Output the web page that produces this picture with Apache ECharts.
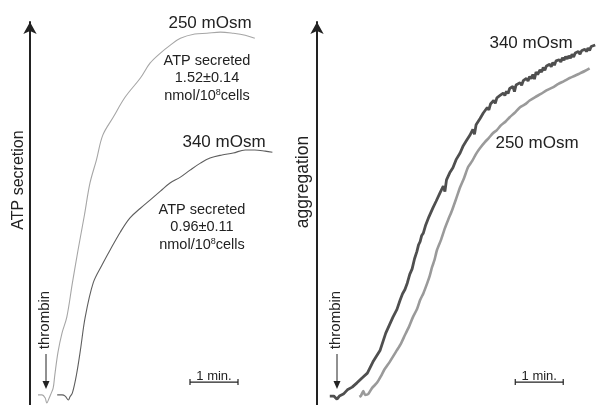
<!DOCTYPE html>
<html>
<head>
<meta charset="utf-8">
<script src="https://cdn.jsdelivr.net/npm/echarts@6/dist/echarts.min.js"></script>
<style>
  html, body { margin: 0; padding: 0; background: #fff; }
  #chart { width: 596px; height: 405px; }
</style>
</head>
<body>
<div id="chart"></div>
<script>
// Time axis in seconds, response in % of full-scale deflection.

// ATP secretion traces (left panel)
const secretion250 = [
  [10, 2.6], [15, 2.6], [19, 1.8], [21, 0.5], [24, 1.8], [26, 2.8], [29, 4.4], [31, 7.7],
  [35, 13.6], [40, 18.5], [46, 22.6], [53, 31.4], [60, 39.8], [68, 48.8], [75, 57.1],
  [83, 63.0], [91, 69.4], [104, 74.0], [119, 79.2], [138, 84.1], [150, 87.9], [163, 90.5],
  [175, 92.5], [188, 94.3], [206, 95.4], [221, 95.6], [238, 95.9], [254, 95.6], [269, 95.1],
  [281, 94.3]
];
const secretion340 = [
  [34, 2.6], [40, 2.6], [44, 2.3], [48, 1.3], [50, 2.1], [53, 3.1], [58, 7.7], [63, 14.1],
  [69, 22.6], [79, 31.4], [90, 36.0], [100, 39.8], [113, 44.5], [125, 48.1], [138, 50.6],
  [150, 52.7], [163, 55.0], [175, 57.1], [188, 58.6], [200, 60.4], [213, 62.2], [225, 63.5],
  [240, 64.3], [254, 64.8], [269, 65.6], [281, 65.6], [294, 65.3], [303, 65.0]
];

// Aggregation traces (right panel)
const aggregation340 = [
  [16, 2.3], [21, 2.3], [25, 1.5], [28, 2.3], [33, 2.8], [38, 3.9], [44, 4.6], [50, 5.7],
  [56, 6.9], [63, 8.2], [70, 11.1], [79, 14.1], [86, 18.5], [95, 22.6], [100, 24.6],
  [104, 27.0], [107, 28.6], [110, 29.7], [113, 31.4], [116, 33.6], [119, 35.0], [122, 37.6],
  [125, 39.5], [127, 41.2], [129, 42.0], [131, 43.6], [133, 44.2], [136, 46.3], [138, 46.7],
  [140, 48.4], [142, 48.6], [145, 50.7], [147, 51.0], [149, 52.4], [151, 52.1], [154, 54.6],
  [156, 54.9], [158, 56.3], [160, 54.9], [162, 57.9], [164, 58.2], [166, 59.7], [168, 59.5],
  [170, 61.0], [172, 61.3], [174, 63.1], [176, 62.6], [179, 64.8], [181, 65.0], [183, 66.7],
  [185, 66.2], [187, 68.0], [189, 67.6], [191, 69.3], [193, 69.1], [195, 70.9], [197, 69.6],
  [199, 72.1], [201, 71.8], [204, 73.7], [206, 73.3], [208, 75.1], [210, 74.6], [213, 76.5],
  [215, 75.9], [217, 77.4], [219, 77.0], [221, 78.3], [223, 77.6], [225, 79.0], [227, 78.5],
  [229, 79.6], [231, 79.2], [233, 80.2], [235, 79.6], [237, 80.7], [239, 80.1], [241, 81.4],
  [243, 81.0], [245, 81.9], [247, 80.6], [249, 82.3], [251, 81.9], [254, 82.9], [256, 82.2],
  [258, 83.4], [260, 83.0], [262, 84.0], [264, 83.3], [266, 84.5], [268, 83.9], [270, 85.0],
  [272, 83.8], [274, 85.6], [276, 85.0], [279, 86.2], [281, 85.6], [283, 86.8], [285, 86.1],
  [287, 87.2], [289, 86.7], [291, 87.6], [293, 87.0], [295, 88.1], [297, 87.4], [299, 88.5],
  [301, 88.0], [303, 88.8], [305, 88.2], [307, 89.3], [309, 88.7], [311, 89.6], [313, 89.0],
  [315, 89.8], [317, 89.2], [319, 90.2], [321, 89.5], [323, 90.5], [325, 90.1], [327, 90.9],
  [329, 90.2], [331, 91.1], [333, 90.6], [335, 91.5], [337, 90.9], [339, 91.8], [341, 91.2],
  [343, 92.2], [345, 91.7], [348, 92.6]
];
const aggregation250 = [
  [53, 2.1], [55, 2.4], [58, 3.6], [60, 2.6], [64, 2.8], [69, 4.4], [75, 5.7], [80, 7.4],
  [84, 9.0], [91, 11.1], [100, 14.1], [105, 15.8], [110, 18.0], [115, 20.1], [120, 22.6],
  [125, 24.6], [129, 27.0], [133, 28.7], [138, 31.4], [141, 33.2], [144, 35.5], [147, 37.3],
  [150, 39.8], [155, 42.4], [160, 45.5], [164, 47.6], [169, 50.1], [174, 53.0], [179, 56.0],
  [184, 58.4], [189, 61.2], [194, 62.7], [199, 64.6], [204, 66.1], [210, 67.6], [215, 68.7],
  [220, 69.9], [225, 70.7], [230, 71.9], [236, 72.9], [241, 74.0], [247, 75.1], [254, 76.6],
  [260, 77.3], [266, 78.3], [273, 79.2], [280, 80.0], [287, 80.9], [295, 81.7], [302, 82.6],
  [309, 83.3], [316, 84.1], [322, 84.6], [329, 85.3], [335, 85.9], [341, 86.6]
];

// One-minute scale bars: [start, end, level]
const scaleBarLeft = [[200, 260, 5.9]];
const scaleBarRight = [[248, 308, 5.9]];

const FONT = '"Liberation Sans", Arial, sans-serif';
const INK = '#222';

function renderScaleBar(params, api) {
  const a = api.coord([api.value(0), api.value(2)]);
  const b = api.coord([api.value(1), api.value(2)]);
  const st = { stroke: INK, lineWidth: 1.2 };
  return {
    type: 'group',
    children: [
      { type: 'line', shape: { x1: a[0], y1: a[1], x2: b[0], y2: b[1] }, style: st },
      { type: 'line', shape: { x1: a[0], y1: a[1] - 3, x2: a[0], y2: a[1] + 3 }, style: st },
      { type: 'line', shape: { x1: b[0], y1: b[1] - 3, x2: b[0], y2: b[1] + 3 }, style: st },
      {
        type: 'text',
        style: {
          text: '1 min.', x: (a[0] + b[0]) / 2, y: a[1] + 1,
          align: 'center', verticalAlign: 'bottom',
          font: '13px ' + FONT, fill: INK
        }
      }
    ]
  };
}

function hiddenX(idx, max) {
  return { type: 'value', gridIndex: idx, min: 0, max: max, show: false };
}
function arrowY(idx) {
  return {
    type: 'value', gridIndex: idx, min: 0, max: 98.5,
    axisLine: {
      show: true, onZero: false, symbol: ['none', 'arrow'], symbolSize: [10, 12],
      lineStyle: { color: INK, width: 2 }
    },
    axisTick: { show: false }, axisLabel: { show: false }, splitLine: { show: false }
  };
}

function vText(text, x, y, size) {
  return {
    type: 'text', x: x, y: y, rotation: Math.PI / 2,
    style: { text: text, font: size + 'px ' + FONT, fill: INK, align: 'center', verticalAlign: 'middle' }
  };
}
function hText(text, x, y, size, rich) {
  return {
    type: 'text', x: x, y: y,
    style: { text: text, font: size + 'px ' + FONT, fill: INK, align: 'center', verticalAlign: 'middle', rich: rich }
  };
}
function thrombinArrow(x, textY, lineTop, tipY) {
  return [
    vText('thrombin', x - 1, textY, 15),
    { type: 'line', shape: { x1: x, y1: lineTop, x2: x, y2: tipY - 6 }, style: { stroke: INK, lineWidth: 1 } },
    { type: 'polygon', shape: { points: [[x - 3.5, tipY - 8], [x + 3.5, tipY - 8], [x, tipY]] }, style: { fill: INK } }
  ];
}

const unitRich = {
  sup: { font: '9px ' + FONT, fill: INK, verticalAlign: 'top', padding: [0, 0, 7, 0] }
};

const chart = echarts.init(document.getElementById('chart'), null, { renderer: 'canvas' });
chart.setOption({
  animation: false,
  backgroundColor: '#fff',
  grid: [
    { left: 30, top: 22, width: 260, bottom: 0 },
    { left: 317, top: 22, width: 279, bottom: 0 }
  ],
  xAxis: [hiddenX(0, 325), hiddenX(1, 349)],
  yAxis: [arrowY(0), arrowY(1)],
  series: [
    { type: 'line', name: '250 mOsm', xAxisIndex: 0, yAxisIndex: 0, data: secretion250,
      showSymbol: false, smooth: 0.35, lineStyle: { color: '#a6a6a6', width: 1.1 } },
    { type: 'line', name: '340 mOsm', xAxisIndex: 0, yAxisIndex: 0, data: secretion340,
      showSymbol: false, smooth: 0.35, lineStyle: { color: '#5e5e5e', width: 1.1 } },
    { type: 'line', name: '250 mOsm', xAxisIndex: 1, yAxisIndex: 1, data: aggregation250,
      showSymbol: false, smooth: 0.2, lineStyle: { color: '#9a9a9a', width: 2.6 } },
    { type: 'line', name: '340 mOsm', xAxisIndex: 1, yAxisIndex: 1, data: aggregation340,
      showSymbol: false, lineStyle: { color: '#4f4f4f', width: 2.8 } },
    { type: 'custom', xAxisIndex: 0, yAxisIndex: 0, data: scaleBarLeft, renderItem: renderScaleBar },
    { type: 'custom', xAxisIndex: 1, yAxisIndex: 1, data: scaleBarRight, renderItem: renderScaleBar }
  ],
  graphic: [
    vText('ATP secretion', 18.5, 180, 16),
    vText('aggregation', 303.5, 182, 17.5),
    hText('250 mOsm', 210, 23, 17),
    hText('ATP secreted', 207, 61, 14.5),
    hText('1.52±0.14', 207, 78, 14.5),
    hText('nmol/10{sup|8}cells', 207, 96, 14.5, unitRich),
    hText('340 mOsm', 224, 142, 17),
    hText('ATP secreted', 202, 210, 14.5),
    hText('0.96±0.11', 202, 227, 14.5),
    hText('nmol/10{sup|8}cells', 202, 245, 14.5, unitRich),
    hText('340 mOsm', 531, 43, 17),
    hText('250 mOsm', 537, 143, 17),
    ...thrombinArrow(46, 320, 354, 389),
    ...thrombinArrow(337, 320, 354, 389)
  ]
});
</script>
</body>
</html>
